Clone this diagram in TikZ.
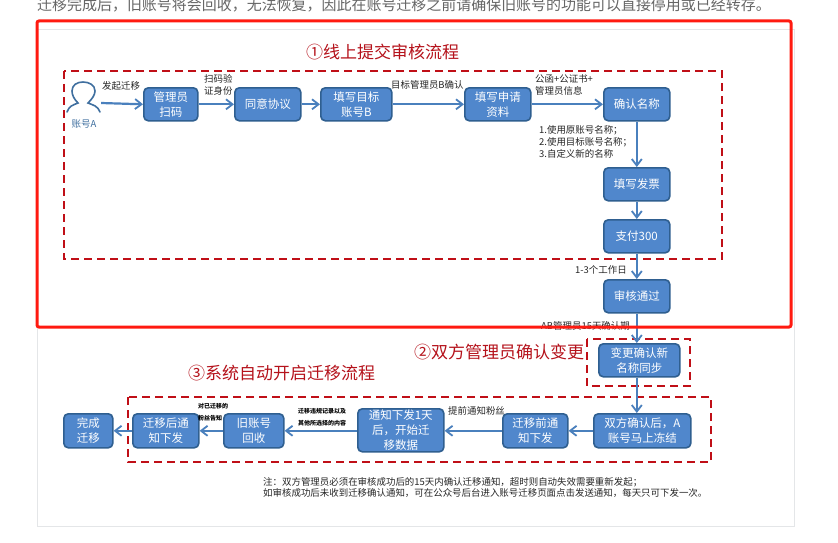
\documentclass[tikz,border=0pt]{standalone}
\usepackage{fontspec}
\setmainfont{Noto Sans CJK SC}
\usetikzlibrary{arrows.meta}
\definecolor{boxfill}{HTML}{5087CC}
\definecolor{boxline}{HTML}{2F5F90}
\definecolor{arrowc}{HTML}{4A80BD}
\definecolor{darkred}{HTML}{B5121B}
\definecolor{framered}{HTML}{FF1A10}
\definecolor{framegray}{HTML}{E4E6E8}
\definecolor{toptext}{HTML}{666666}
\definecolor{iconc}{HTML}{3F6F9F}
\tikzset{
  x=1pt,y=-1pt,
  flowbox/.style={draw=boxline,fill=boxfill,line width=1.6pt,rounded corners=4.5pt,text=white,inner sep=0pt,align=center,font=\fontsize{11.5}{15}\selectfont,anchor=north west},
  flow/.style={draw=arrowc,line width=2.2pt,-{Straight Barb[length=6.5pt,width=10pt,line width=1.8pt]}},
  note/.style={text=black!85,inner sep=0pt,anchor=west,align=left,font=\fontsize{9.45}{11.7}\selectfont},
  tiny/.style={text=black,inner sep=0pt,anchor=west,align=left,font=\bfseries\fontsize{6}{12}\selectfont},
  title/.style={text=darkred,inner sep=0pt,anchor=west,font=\fontsize{17}{20}\selectfont},
  redzone/.style={draw=darkred!85!red,line width=2pt,dash pattern=on 8pt off 5pt},
}
\begin{document}
\begin{tikzpicture}
\useasboundingbox (0,0) rectangle (838,543);
\fill[white] (0,0) rectangle (838,543);
\begin{scope}
\clip (0,0) rectangle (838,543);
\node[text=toptext,inner sep=0pt,anchor=west,font=\fontsize{14.97}{16}\selectfont] (toptxt) at (37,5) {迁移完成后，旧账号将会回收，无法恢复，因此在账号迁移之前请确保旧账号的功能可以直接停用或已经转存。};
\end{scope}
\draw[framegray,line width=1pt] (37.5,30) rectangle (794,526);
% titles
\node[title] (t1) at (306,52) {①线上提交审核流程};
\node[title] (t2) at (414,352) {②双方管理员确认变更};
\node[title] (t3) at (188,373) {③系统自动开启迁移流程};
% dashed zones
\draw[redzone] (64,71) rectangle (722,259);
\draw[redzone] (587,339) rectangle (690,386);
\draw[redzone] (128,397) rectangle (711,462);
% user icon
\node[inner sep=0pt,minimum width=34pt,minimum height=30pt] (user) at (84,103) {};
\draw[iconc,line width=1.6pt,line cap=round]
  (67,112) .. controls (69,106) and (73,105) .. (78,103)
  .. controls (74,99) and (72,95) .. (72,91)
  .. controls (72,85) and (77,82) .. (83,82)
  .. controls (89,82) and (95,85) .. (95,91)
  .. controls (95,95) and (92,99) .. (88,103)
  .. controls (93,105) and (98,106) .. (100,112);
\node[text=iconc,inner sep=0pt,font=\fontsize{9.5}{11}\selectfont] (userl) at (84,124) {账号A};
% boxes
\node[flowbox,minimum width=54pt,minimum height=33pt] (n1) at (143,87) {管理员\\扫码};
\node[flowbox,minimum width=66pt,minimum height=33pt] (n2) at (234,87) {同意协议};
\node[flowbox,minimum width=71pt,minimum height=33pt] (n3) at (320,87) {填写目标\\账号B};
\node[flowbox,minimum width=66pt,minimum height=33pt] (n4) at (464,87) {填写申请\\资料};
\node[flowbox,minimum width=66pt,minimum height=33pt] (n5) at (603,87) {确认名称};
\node[flowbox,minimum width=66pt,minimum height=33pt] (n6) at (603,167) {填写发票};
\node[flowbox,minimum width=66pt,minimum height=33pt] (n7) at (603,219) {支付300};
\node[flowbox,minimum width=66pt,minimum height=33pt] (n8) at (603,279) {审核通过};
\node[flowbox,minimum width=81pt,minimum height=33pt] (n9) at (598,343) {变更确认新\\名称同步};
\node[flowbox,minimum width=97pt,minimum height=34pt] (n10) at (593,413) {双方确认后，A\\账号马上冻结};
\node[flowbox,minimum width=65pt,minimum height=34pt] (n11) at (502,413) {迁移前通\\知下发};
\node[flowbox,minimum width=86pt,minimum height=43pt] (n12) at (357,408) {通知下发1天\\后，开始迁\\移数据};
\node[flowbox,minimum width=60pt,minimum height=34pt] (n13) at (223,413) {旧账号\\回收};
\node[flowbox,minimum width=66pt,minimum height=34pt] (n14) at (132,413) {迁移后通\\知下发};
\node[flowbox,minimum width=49pt,minimum height=34pt] (n15) at (63,413) {完成\\迁移};
% connectors
\draw[flow] (user.east) -- (n1.west);
\draw[flow] (n1) -- (n2);
\draw[flow] (n2) -- (n3);
\draw[flow] (n3) -- (n4);
\draw[flow] (n4) -- (n5);
\draw[flow] (n5) -- (n6);
\draw[flow] (n6) -- (n7);
\draw[flow] (n7) -- (n8);
\draw[flow] (n8.south) -- (n8.south |- n9.north);
\draw[flow] (n8.south |- n9.south) -- (n8.south |- n10.north);
\draw[flow] (n10) -- (n11);
\draw[flow] (n11.west) -- (n12.east |- n11.west);
\draw[flow] (n12.west |- n13.east) -- (n13);
\draw[flow] (n13) -- (n14);
\draw[flow] (n14) -- (n15);
% labels
\node[note] (l1) at (102,86) {发起迁移};
\node[note] (l2) at (204,85) {扫码验\\证身份};
\node[note] (l3) at (391,85) {目标管理员B确认};
\node[note] (l4) at (535,85) {公函+公证书+\\管理员信息};
\node[note] (l5) at (539,142) {1.使用原账号名称；\\2.使用目标账号名称；\\3.自定义新的名称};
\node[note] (l6) at (575,270) {1-3个工作日};
\node[note] (l7) at (541,326) {AB管理员15天确认期};
\node[tiny] (l8) at (198,412) {对已迁移的\\粉丝告知};
\node[tiny] (l9) at (298,417) {迁移违规记录以及\\其他所选择的内容};
\node[note] (l10) at (448,411) {提前通知粉丝};
\node[note] (l11) at (263,487.5) {注：双方管理员必须在审核成功后的15天内确认迁移通知，超时则自动失效需要重新发起；\\如审核成功后未收到迁移确认通知，可在公众号后台进入账号迁移页面点击发送通知，每天只可下发一次。};
% highlight
\draw[framered,line width=3pt,rounded corners=2pt] (37,21) rectangle (791,327);
\end{tikzpicture}
\end{document}
